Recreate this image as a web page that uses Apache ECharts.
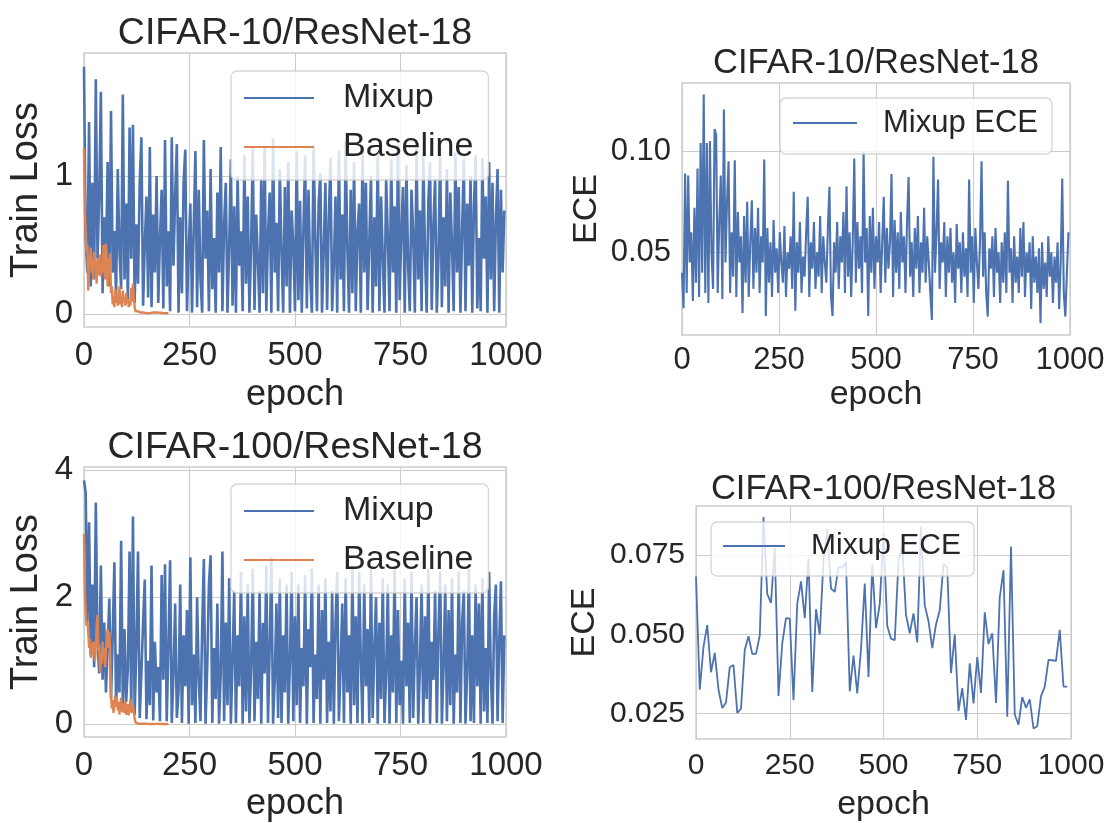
<!DOCTYPE html>
<html>
<head>
<meta charset="utf-8">
<script src="https://cdn.jsdelivr.net/npm/echarts@6/dist/echarts.min.js"></script>
<style>
html,body{margin:0;padding:0;background:#fff;}
#chart{width:1109px;height:823px;}
</style>
</head>
<body>
<div id="chart"></div>
<script>
// ---------------- data ----------------
const DENSE_STEP = 4;     // epochs between samples for dense curves
const BASE_STEP = 2;      // epochs between samples for baseline curves
const ECE100_STEP = 10;   // epochs between samples for CIFAR-100 ECE

const xTicks = [0, 250, 500, 750, 1000];
const yTicksC10Loss = [0, 1];
const yTicksC10ECE = [0.05, 0.10];
const yTicksC100Loss = [0, 2, 4];
const yTicksC100ECE = [0.025, 0.050, 0.075];

const titles = ['CIFAR-10/ResNet-18', 'CIFAR-10/ResNet-18', 'CIFAR-100/ResNet-18', 'CIFAR-100/ResNet-18'];

const c10MixupLoss = [
1.79,0.55,0.30,1.39,0.20,0.95,0.25,1.70,0.40,0.85,
1.61,0.15,0.70,0.35,1.10,0.20,1.47,0.30,0.60,0.12,
1.05,0.45,0.18,1.59,0.25,0.80,0.10,1.35,0.40,1.37,
0.08,0.65,0.22,0.95,1.28,0.06,0.50,0.85,0.12,1.21,
0.05,0.72,0.30,1.00,0.08,0.55,0.90,0.04,1.26,0.20,
0.60,0.02,1.28,0.35,0.85,1.23,0.01,0.70,0.15,0.95,
1.19,0.02,0.45,0.80,0.01,0.62,1.18,0.05,0.90,0.25,
0.01,1.26,0.40,0.75,0.02,1.05,0.18,0.55,0.01,0.88,
0.30,1.21,0.02,0.65,0.95,0.01,0.48,1.12,0.06,0.78,
0.01,1.00,0.35,0.60,0.02,1.15,0.22,0.85,0.01,0.50,
1.20,0.03,0.72,0.40,0.01,0.98,0.15,1.22,0.02,0.58,
0.88,0.01,1.27,0.30,0.66,0.02,1.05,0.45,0.01,0.92,
0.20,1.10,0.01,0.75,0.50,0.02,1.18,0.10,0.82,0.01,
0.62,1.15,0.04,0.90,0.28,0.01,1.22,0.55,0.02,0.80,
1.02,0.01,0.45,0.95,0.03,0.68,1.13,0.02,0.35,0.85,
0.01,1.18,0.25,0.72,0.02,1.25,0.48,0.01,0.90,0.15,
1.10,0.02,0.60,0.80,0.01,1.20,0.30,0.95,0.03,0.52,
1.00,0.01,0.70,0.20,1.16,0.02,0.85,0.40,0.01,0.98,
0.55,0.02,1.12,0.30,0.78,0.01,1.23,0.10,0.62,0.92,
0.01,1.08,0.35,0.02,0.90,0.58,0.01,1.20,0.25,0.75,
0.02,1.15,0.45,0.01,0.82,1.10,0.03,0.65,0.98,0.01,
0.40,1.21,0.05,0.70,0.20,1.05,0.01,0.88,0.50,0.02,
1.17,0.30,0.92,0.01,0.60,1.12,0.02,0.80,0.35,1.00,
0.01,0.78,1.15,0.04,0.55,0.02,1.13,0.40,0.85,0.01,
1.10,0.25,0.95,0.02,0.68,1.05,0.01,0.90,0.30,0.75
];

const c10BaselineLoss = [
1.20,0.75,0.60,0.45,0.50,0.17,0.42,0.35,0.48,0.30,
0.40,0.25,0.45,0.32,0.38,0.22,0.40,0.28,0.35,0.43,
0.27,0.37,0.30,0.50,0.33,0.25,0.51,0.35,0.20,0.40,
0.28,0.44,0.15,0.20,0.07,0.12,0.05,0.18,0.08,0.14,
0.06,0.10,0.20,0.07,0.13,0.05,0.17,0.09,0.12,0.06,
0.15,0.08,0.11,0.05,0.10,0.06,0.19,0.09,0.22,0.12,
0.05,0.02,0.03,0.01,0.02,0.01,0.015,0.01,0.02,0.008,
0.012,0.01,0.018,0.007,0.01,0.012,0.006,0.01,0.015,0.008,
0.01,0.007,0.012,0.006,0.009,0.011,0.005,0.008,0.01,0.006,
0.007,0.009,0.005,0.008,0.006,0.007,0.005,0.006,0.008,0.005,
0.006
];

const c10MixupECE = [
0.040,0.0224,0.089,0.030,0.088,0.045,0.060,0.026,0.072,0.035,
0.0915,0.028,0.104,0.040,0.128,0.030,0.104,0.025,0.105,0.050,
0.032,0.111,0.108,0.030,0.065,0.088,0.027,0.1206,0.045,0.075,
0.095,0.030,0.060,0.038,0.0955,0.028,0.070,0.045,0.058,0.020,
0.068,0.035,0.075,0.028,0.055,0.0758,0.032,0.062,0.040,0.072,
0.030,0.058,0.045,0.0959,0.0186,0.062,0.035,0.055,0.028,0.066,
0.040,0.052,0.030,0.060,0.045,0.035,0.063,0.028,0.050,0.042,
0.058,0.032,0.080,0.0212,0.055,0.040,0.065,0.030,0.048,0.038,
0.060,0.0775,0.028,0.055,0.042,0.065,0.032,0.050,0.038,0.068,
0.030,0.058,0.045,0.035,0.062,0.0824,0.028,0.0186,0.055,0.040,
0.065,0.032,0.058,0.045,0.070,0.030,0.0827,0.038,0.060,0.028,
0.055,0.0964,0.035,0.065,0.042,0.058,0.030,0.100,0.045,0.062,
0.0186,0.068,0.040,0.072,0.032,0.058,0.045,0.065,0.030,0.055,
0.0775,0.035,0.062,0.042,0.055,0.0887,0.028,0.066,0.040,0.060,
0.032,0.070,0.045,0.058,0.030,0.065,0.0873,0.038,0.055,0.028,
0.062,0.042,0.068,0.030,0.055,0.040,0.072,0.035,0.058,0.045,
0.030,0.0166,0.0972,0.040,0.060,0.086,0.032,0.055,0.045,0.065,
0.028,0.058,0.040,0.062,0.035,0.050,0.025,0.064,0.042,0.055,
0.030,0.060,0.038,0.052,0.028,0.086,0.040,0.058,0.025,0.062,
0.045,0.032,0.055,0.095,0.038,0.060,0.030,0.0183,0.052,0.042,
0.058,0.028,0.062,0.040,0.050,0.025,0.055,0.035,0.060,0.030,
0.0854,0.040,0.052,0.025,0.058,0.035,0.048,0.030,0.062,0.038,
0.065,0.028,0.050,0.040,0.055,0.022,0.058,0.035,0.048,0.030,
0.052,0.015,0.055,0.032,0.045,0.028,0.058,0.038,0.050,0.025,
0.048,0.035,0.055,0.022,0.045,0.0865,0.030,0.0183,0.040,0.060
];

const c100MixupLoss = [
3.84,3.64,1.60,3.18,1.10,2.20,0.90,3.49,1.30,0.80,
2.50,0.70,1.60,0.50,1.20,1.98,0.40,1.40,2.55,0.30,
1.10,0.50,2.89,0.25,1.50,0.35,0.90,2.72,0.20,3.27,
0.15,1.20,2.72,0.10,0.80,1.60,2.28,0.08,1.00,0.30,
2.50,0.06,1.30,0.50,0.90,0.05,2.35,0.70,2.52,0.05,
1.20,2.58,0.02,0.80,1.90,0.10,0.50,2.20,0.02,1.40,
0.60,1.80,0.01,2.63,0.30,1.10,0.02,2.00,0.70,0.05,
1.50,2.60,0.01,0.90,2.20,2.66,0.02,1.20,0.40,1.90,
0.01,0.80,2.72,0.05,1.60,0.30,2.30,0.01,1.00,2.10,
0.02,1.40,0.60,2.40,0.01,1.70,0.20,2.20,0.02,0.90,
2.45,0.05,1.30,0.40,2.10,0.01,1.60,0.80,2.50,0.02,
1.20,2.63,0.01,0.70,1.90,0.10,2.30,0.02,1.40,0.50,
2.20,0.01,1.00,2.40,0.05,1.70,0.30,2.20,0.02,1.20,
0.60,2.35,0.01,1.50,0.90,2.45,0.02,1.10,0.40,2.20,
0.01,1.80,0.70,2.30,0.02,1.30,0.20,2.10,0.01,1.60,
2.40,0.05,0.90,1.90,0.02,2.30,0.50,1.40,0.01,2.50,
0.30,1.70,0.02,2.40,1.00,0.01,2.20,0.60,1.50,0.02,
2.45,0.10,1.20,2.00,0.01,1.60,0.40,2.30,0.02,0.80,
2.20,0.01,1.40,0.50,2.50,0.02,1.80,0.30,1.00,0.01,
2.30,0.60,1.60,0.02,2.40,0.10,1.20,2.00,0.01,0.90,
2.20,0.02,1.70,0.40,2.45,0.01,1.30,0.70,2.10,0.02,
1.50,2.40,0.01,0.90,2.20,0.05,1.80,0.30,2.30,0.01,
1.10,0.50,2.40,0.02,1.60,2.10,0.01,0.80,2.45,0.05,
1.40,0.02,2.20,0.60,1.90,0.01,2.30,0.20,1.20,0.02,
2.40,0.80,0.01,1.70,2.20,0.05,1.30,2.25,0.02,1.40
];

const c100BaselineLoss = [
3.00,2.10,1.78,1.55,1.62,1.45,1.20,1.35,1.05,1.25,
1.10,1.30,1.15,1.00,1.28,1.40,1.72,1.15,1.25,0.82,
1.10,0.95,1.30,1.05,1.20,0.90,1.15,1.35,1.50,1.20,
1.45,1.10,0.45,0.25,0.38,0.18,0.30,0.45,0.28,0.40,
0.22,0.35,0.15,0.30,0.42,0.20,0.33,0.18,0.28,0.36,
0.15,0.25,0.32,0.14,0.22,0.40,0.26,0.18,0.30,0.20,
0.10,0.03,0.02,0.015,0.01,0.012,0.01,0.008,0.011,0.009,
0.01,0.008,0.007,0.009,0.006,0.008,0.007,0.006,0.008,0.005,
0.007,0.006,0.005,0.007,0.005,0.006,0.005,0.004,0.006,0.005,
0.004,0.005,0.004,0.005,0.004,0.004,0.005,0.004,0.004,0.003,
0.004
];

const c100MixupECE = [
0.0682,0.0325,0.0461,0.0529,0.0380,0.0441,0.0325,0.0267,0.0285,0.0396,
0.0403,0.0252,0.0265,0.0451,0.0494,0.0438,0.0438,0.0496,0.0870,0.0627,
0.0599,0.0772,0.0305,0.0471,0.0551,0.0549,0.0292,0.0596,0.0667,0.0551,
0.0740,0.0318,0.0579,0.0499,0.0732,0.0832,0.0644,0.0634,0.0712,0.0710,
0.0727,0.0320,0.0433,0.0313,0.0453,0.0660,0.0365,0.0720,0.0519,0.0596,
0.0819,0.0526,0.0486,0.0481,0.0732,0.0777,0.0561,0.0503,0.0566,0.0474,
0.0840,0.0591,0.0541,0.0456,0.0531,0.0576,0.0722,0.0710,0.0377,0.0499,
0.0258,0.0330,0.0230,0.0408,0.0282,0.0428,0.0315,0.0569,0.0469,0.0503,
0.0283,0.0616,0.0702,0.0240,0.0777,0.0247,0.0215,0.0302,0.0268,0.0295,
0.0203,0.0210,0.0305,0.0335,0.0419,0.0418,0.0416,0.0514,0.0335,0.0335
];

// ---------------- styling ----------------
const FONT = "'Liberation Sans', Arial, Helvetica, sans-serif";
const TXT = '#262626';
const GRIDC = '#cccccc';
const BLUE = '#4C72B0';
const ORANGE = '#DD8452';

const panels = [
  {grid:{left:84, top:53, width:422, height:274}, ymin:-0.094, ymax:1.89, yticks:yTicksC10Loss, ydec:0,
   yname:'Train Loss', title:titles[0], titleTop:15, tfs:37.5, lfs:36, ynfs:38, tickfs:33,
   ynameGap:38, xnameGap:50, xmargin:12},
  {grid:{left:682, top:83, width:388, height:252}, ymin:0.0092, ymax:0.1337, yticks:yTicksC10ECE, ydec:2,
   yname:'ECE', title:titles[1], titleTop:46, tfs:34.5, lfs:34, ynfs:34, tickfs:31,
   ynameGap:78, xnameGap:43, xmargin:10},
  {grid:{left:84, top:467, width:422, height:274}, ymin:-0.2, ymax:4.05, yticks:yTicksC100Loss, ydec:0,
   yname:'Train Loss', title:titles[2], titleTop:429, tfs:37.5, lfs:36, ynfs:38, tickfs:33,
   ynameGap:38, xnameGap:49, xmargin:12},
  {grid:{left:696, top:506, width:375, height:244}, ymin:0.01696, ymax:0.09045, yticks:yTicksC100ECE, ydec:3,
   yname:'ECE', title:titles[3], titleTop:472, tfs:34.5, lfs:34, ynfs:34, tickfs:30,
   ynameGap:94, xnameGap:49, xmargin:12}
];

const toPairs = (arr, step) => arr.map((v, i) => [i * step, v]);

const grids = [], xAxes = [], yAxes = [], titleOpts = [];
panels.forEach((p, k) => {
  grids.push(Object.assign({show:true, borderColor:GRIDC, borderWidth:1.3, backgroundColor:'#fff', containLabel:false}, p.grid));
  xAxes.push({
    gridIndex:k, type:'value', min:0, max:1000, interval:250,
    axisLine:{show:false}, axisTick:{show:false},
    splitLine:{show:true, lineStyle:{color:GRIDC, width:1.1}},
    axisLabel:{customValues:xTicks, fontFamily:FONT, fontSize:p.tickfs, color:TXT, margin:p.xmargin,
      formatter:(v)=>String(Math.round(v))},
    name:'epoch', nameLocation:'middle', nameGap:p.xnameGap,
    nameTextStyle:{fontFamily:FONT, fontSize:p.lfs, color:TXT}
  });
  yAxes.push({
    gridIndex:k, type:'value', min:p.ymin, max:p.ymax,
    axisLine:{show:false},
    axisTick:{show:false, customValues:p.yticks},
    splitLine:{show:true, lineStyle:{color:GRIDC, width:1.1}},
    axisLabel:{customValues:p.yticks, fontFamily:FONT, fontSize:p.tickfs, color:TXT, margin:11,
      formatter:(v)=>Number(v).toFixed(p.ydec)},
    name:p.yname, nameLocation:'middle', nameGap:p.ynameGap, nameRotate:90,
    nameTextStyle:{fontFamily:FONT, fontSize:p.ynfs, color:TXT}
  });
  titleOpts.push({
    text:p.title, left:p.grid.left + p.grid.width/2, textAlign:'center', top:p.titleTop, padding:0,
    textStyle:{fontFamily:FONT, fontSize:p.tfs, fontWeight:'normal', color:TXT}
  });
});

function lineSeries(name, k, data, color, w) {
  return {
    name, type:'line', xAxisIndex:k, yAxisIndex:k, data, showSymbol:false, symbol:'none',
    lineStyle:{color, width:w}, itemStyle:{color}, sampling:false, animation:false, clip:true
  };
}

const series = [
  lineSeries('Mixup', 0, toPairs(c10MixupLoss, DENSE_STEP), BLUE, 2.6),
  lineSeries('Baseline', 0, toPairs(c10BaselineLoss, BASE_STEP), ORANGE, 2.4),
  lineSeries('Mixup ECE', 1, toPairs(c10MixupECE, DENSE_STEP), BLUE, 2.1),
  lineSeries('Mixup ', 2, toPairs(c100MixupLoss, DENSE_STEP), BLUE, 2.6),
  lineSeries('Baseline ', 2, toPairs(c100BaselineLoss, BASE_STEP), ORANGE, 2.4),
  lineSeries('Mixup ECE ', 3, toPairs(c100MixupECE, ECE100_STEP), BLUE, 1.8)
];

function legend(data, left, top, fs, lh, gap, pad, textPadLeft, itemW) {
  return {
    data: data.map(n => ({name:n, icon:'rect'})),
    orient:'vertical', left, top, padding:pad, itemGap:gap,
    itemWidth:itemW, itemHeight:2,
    backgroundColor:'rgba(255,255,255,0.8)', borderColor:'rgba(204,204,204,0.8)', borderWidth:1.3, borderRadius:6,
    selectedMode:false,
    textStyle:{fontFamily:FONT, fontSize:fs, color:TXT, lineHeight:lh, padding:[0,0,0,textPadLeft]},
    formatter:(n)=>n.trim()
  };
}

const option = {
  animation:false,
  backgroundColor:'#fff',
  title:titleOpts,
  grid:grids, xAxis:xAxes, yAxis:yAxes,
  legend:[
    legend(['Mixup','Baseline'], 231, 71, 34, 40, 9, [7,15,13,13], 24, 70),
    legend(['Mixup ECE'], 780, 98, 31, 36, 9, [7,14,13,13], 21, 64),
    legend(['Mixup ','Baseline '], 231, 484, 34, 40, 9, [7,15,13,13], 24, 70),
    legend(['Mixup ECE '], 711, 522, 30, 34, 9, [7,13,13,12], 21, 62)
  ],
  series
};

const chart = echarts.init(document.getElementById('chart'), null, {renderer:'canvas'});
chart.setOption(option);
</script>
</body>
</html>
